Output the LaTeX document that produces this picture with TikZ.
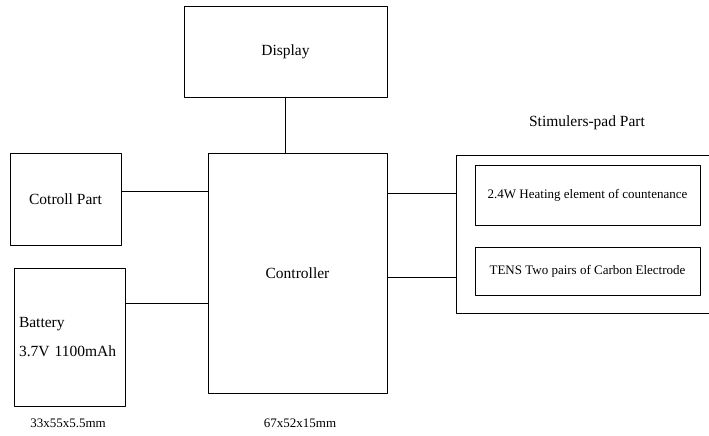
\documentclass[tikz,border=0pt]{standalone}
\usepackage{fontspec}
\setmainfont{Liberation Serif}
\begin{document}
\begin{tikzpicture}[x=1pt, y=-1pt, line join=round, line cap=round,
  every node/.style={font=\fontsize{15.5}{18}\selectfont},
  blk/.style={draw, line width=0.9pt, inner sep=0pt},
  small/.style={font=\fontsize{13}{15}\selectfont}]
\useasboundingbox (0,0) rectangle (709,436);
% blocks
\node[blk, minimum width=203, minimum height=91] (disp) at (285.5,51.5) {Display};
\node[blk, minimum width=179, minimum height=240] (ctrl) at (297.5,273.5) {Controller};
\node[blk, minimum width=111, minimum height=92] (cot) at (65.5,199) {Cotroll Part};
\node[blk, minimum width=111, minimum height=138, text width=101, align=left,
  font=\fontsize{15.5}{29}\selectfont] (bat) at (69.5,337) {Battery\\3.7V 1100mAh};
% stimulator pad
\node (padlbl) at (587,123) {Stimulers-pad Part};
\coordinate (padT) at (709,155);
\coordinate (padBL) at (456,313);
\coordinate (padB) at (709,313);
\draw[line width=0.9pt] (padT) -| (padBL) -- (padB);
\node[blk, small, minimum width=225, minimum height=60] (heat) at (587.5,195) {2.4W Heating element of countenance};
\node[blk, small, minimum width=225, minimum height=48] (tens) at (587.5,271) {TENS Two pairs of Carbon Electrode};
% sizes
\node[small] (batsz) at (68,423) {33x55x5.5mm};
\node[small] (ctrlsz) at (300,423) {67x52x15mm};
% links
\draw[line width=0.9pt] (disp.south) -- (disp.south |- ctrl.north);
\draw[line width=0.9pt] ([yshift=8pt]cot.east) -- ([yshift=8pt]cot.east -| ctrl.west);
\draw[line width=0.9pt] ([yshift=34pt]bat.east) -- ([yshift=34pt]bat.east -| ctrl.west);
\draw[line width=0.9pt] ([yshift=80.5pt]ctrl.east) -- ([yshift=80.5pt]ctrl.east -| padBL);
\draw[line width=0.9pt] ([yshift=-3.5pt]ctrl.east) -- ([yshift=-3.5pt]ctrl.east -| padBL);
\end{tikzpicture}
\end{document}
